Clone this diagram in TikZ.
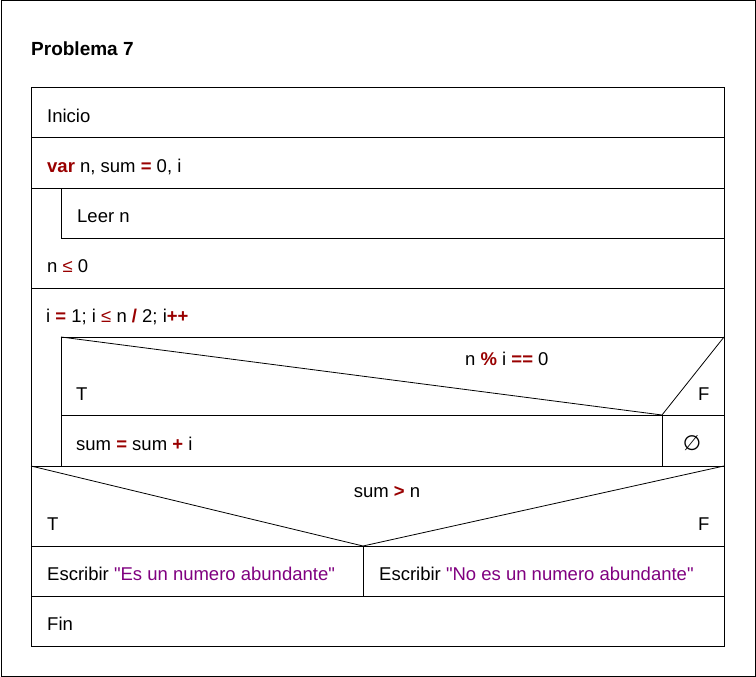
\documentclass[tikz,border=0pt]{standalone}
\usepackage{fontspec}
\setmainfont{Liberation Sans}[Ligatures=TeXOff]
\newfontfamily\symfont{DejaVu Sans}
\definecolor{kwred}{HTML}{990000}
\definecolor{strpurple}{HTML}{800080}
\newcommand\kw[1]{\textcolor{kwred}{\textbf{#1}}}
\newcommand\opr[1]{\textcolor{kwred}{\textbf{#1}}}
\newcommand\strg[1]{\textcolor{strpurple}{"#1"}}
\tikzset{
  txt/.style={anchor=base west, inner sep=0pt, font=\fontsize{18.5}{22}\selectfont},
  ttl/.style={anchor=base west, inner sep=0pt, font=\fontsize{19}{23}\selectfont\bfseries},
  ln/.style={line width=1pt, draw=black},
  thin/.style={line width=0.8pt, draw=black}
}
\begin{document}
\begin{tikzpicture}[x=1pt,y=-1pt]
\useasboundingbox (0,0) rectangle (756,677);
\fill[white] (0,0) rectangle (756,677);
\draw[ln] (1,1) rectangle (755,676);
\node[ttl] (title) at (31,56) {Problema 7};
% main frame
\draw[ln] (31,88) rectangle (724,646);
\draw[ln] (31,138) -- (724,138);
\draw[ln] (31,188) -- (724,188);
\draw[ln] (61,188) -- (61,238) -- (724,238);
\draw[ln] (31,288) -- (724,288);
% loop body
\draw[ln] (61,466) -- (61,337) -- (724,337);
\draw[thin] (61,337) -- (662,415) -- (724,337);
\draw[ln] (61,415) -- (724,415);
\draw[ln] (662,415) -- (662,466);
\draw[ln] (31,466) -- (724,466);
% second if
\draw[thin] (31,466) -- (363,546) -- (724,466);
\draw[ln] (31,546) -- (724,546);
\draw[ln] (363,546) -- (363,596);
\draw[ln] (31,596) -- (724,596);
% texts
\node[txt] (inicio) at (47,122) {Inicio};
\node[txt] (var) at (47,172) {\kw{var} n, sum \opr{=} 0, i};
\node[txt] (leer) at (77,222) {Leer n};
\node[txt] (cond1) at (47,272) {n \textcolor{kwred}{≤} 0};
\node[txt] (loop) at (46,322) {i \opr{=} 1; i \textcolor{kwred}{≤} n \opr{/} 2; i\opr{++}};
\node[txt] (cond2) at (465,365) {n \opr{\%} i \opr{==} 0};
\node[txt] (t1) at (76,400) {T};
\node[txt] (f1) at (698,400) {F};
\node[txt] (sumst) at (76,450) {sum \opr{=} sum \opr{+} i};
\node[anchor=base, inner sep=0pt, font=\fontsize{21}{24}\selectfont\symfont] (empty) at (692,450) {∅};
\node[txt, anchor=base] (cond3) at (387,497) {sum \opr{>} n};
\node[txt] (t2) at (47,530) {T};
\node[txt] (f2) at (698,530) {F};
\node[txt] (w1) at (47,580) {Escribir \strg{Es un numero abundante}};
\node[txt] (w2) at (379,580) {Escribir \strg{No es un numero abundante}};
\node[txt] (fin) at (47,630) {Fin};
\end{tikzpicture}
\end{document}
